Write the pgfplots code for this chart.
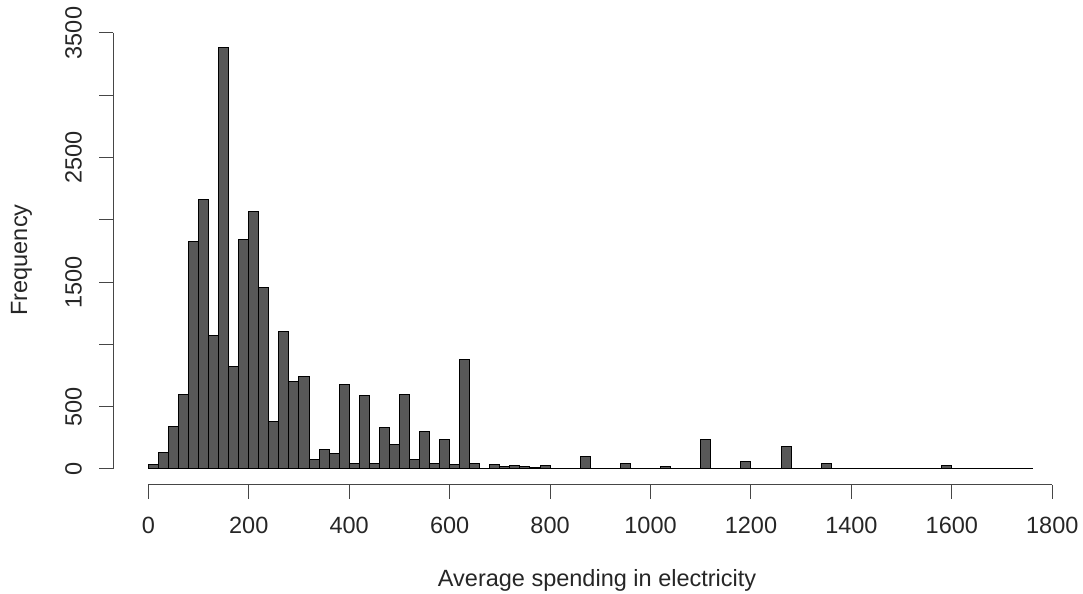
\documentclass[border=0pt]{standalone}
\usepackage{fontspec}
\setmainfont{Liberation Sans}
\usepackage{pgfplots}
\pgfplotsset{compat=1.18}
\definecolor{barfill}{RGB}{88,88,88}
\definecolor{axgray}{RGB}{70,70,70}

\pgfplotstableread{
x y
0 35
20 129
40 343
60 598
80 1826
100 2166
120 1075
140 3381
160 826
180 1842
200 2064
220 1456
240 378
260 1107
280 700
300 745
320 80
340 153
360 126
380 681
400 46
420 587
440 46
460 332
480 196
500 598
520 80
540 298
560 46
580 239
600 38
620 877
640 46
660 8
680 35
700 19
720 27
740 21
760 16
780 32
800 3
820 2
840 2
860 99
880 2
900 2
920 1
940 46
960 2
980 2
1000 2
1020 24
1040 2
1060 2
1080 8
1100 239
1120 2
1140 2
1160 2
1180 59
1200 2
1220 2
1240 2
1260 180
1280 2
1300 2
1320 2
1340 43
1360 2
1380 2
1400 2
1420 2
1440 2
1460 2
1480 2
1500 2
1520 2
1540 2
1560 2
1580 27
1600 2
1620 2
1640 2
1660 2
1680 2
1700 2
1720 2
1740 8
1760 0
}\histdata

\begin{document}
\begin{tikzpicture}[every node/.style={font=\fontsize{11.75pt}{14pt}\selectfont, inner sep=0pt, text=black!85}]
\begin{axis}[
  at={(0,0)}, anchor=south west,
  scale only axis, width=452pt, height=218pt,
  xmin=0, xmax=1800, ymin=0, ymax=3500,
  hide axis, clip=false,
]
\addplot[ybar interval, fill=barfill, draw=black, line width=0.5pt] table[x=x, y=y] {\histdata};
\coordinate (O) at (axis cs:0,0);
\end{axis}
% x axis (R style, offset below the bars)
\draw[line width=0.5pt, axgray] ([shift={(0pt,-8pt)}]O) -- ([shift={(452pt,-8pt)}]O);
\foreach \v in {0,200,...,1800} {
  \draw[line width=0.5pt, axgray] ([shift={({\v/1800*452pt},-8pt)}]O) -- ++(0,-7pt);
  \node[anchor=base] at ([shift={({\v/1800*452pt},-32.5pt)}]O) {\v};
}
% y axis
\draw[line width=0.5pt, axgray] ([shift={(-17.5pt,0pt)}]O) -- ([shift={(-17.5pt,218pt)}]O);
\foreach \v in {0,500,...,3500} {
  \draw[line width=0.5pt, axgray] ([shift={(-17.5pt,{\v/3500*218pt})}]O) -- ++(-7pt,0);
}
\foreach \v in {0,500,1500,2500,3500} {
  \node[rotate=90, anchor=base] at ([shift={(-33.3pt,{\v/3500*218pt})}]O) {\v};
}
% axis titles
\node[rotate=90, anchor=base] at ([shift={(-60.6pt,104.5pt)}]O) {Frequency};
\node[anchor=base] at ([shift={(224.4pt,-59pt)}]O) {Average spending in electricity};
% page size matching the reference
\path[use as bounding box] ([shift={(-74.15pt,-62.5pt)}]O) rectangle ([shift={(467.35pt,234.5pt)}]O);
\end{tikzpicture}
\end{document}
